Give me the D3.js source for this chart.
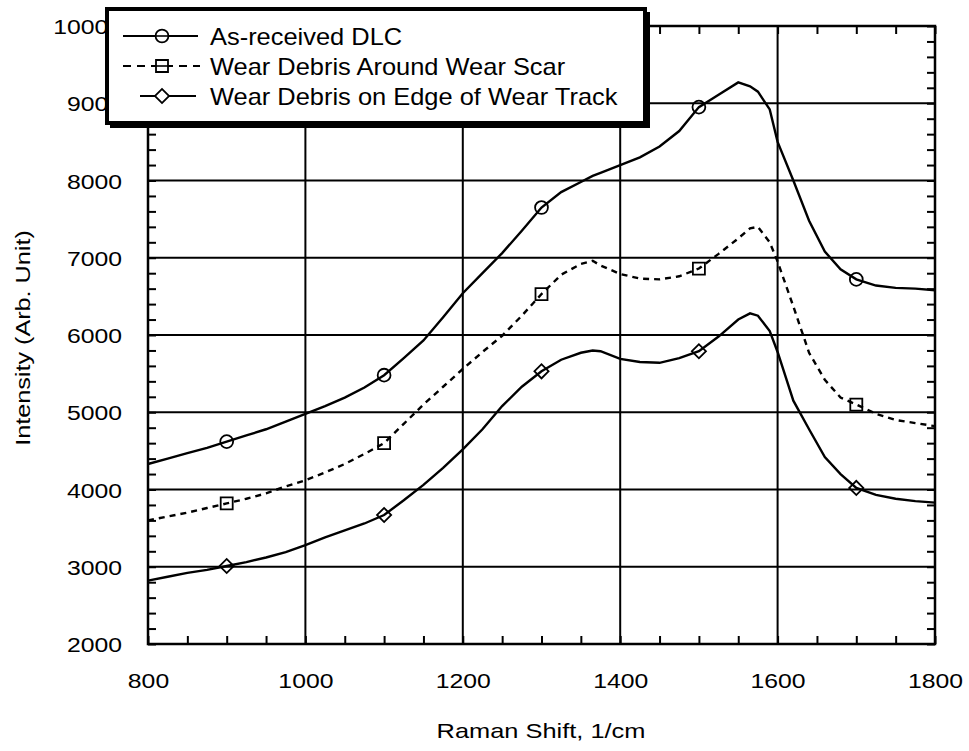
<!DOCTYPE html>
<html>
<head>
<meta charset="utf-8">
<script src="https://cdn.jsdelivr.net/npm/d3@7"></script>
<style>
  body { margin: 0; background: #fff; }
  svg { font-family: "Liberation Sans", Arial, sans-serif; }
</style>
</head>
<body>
<svg id="chart" width="969" height="751"></svg>
<script>
// Raman shift (1/cm) sample positions, shared by all three spectra
const ramanShift = [800, 825, 850, 875, 900, 925, 950, 975, 1000, 1025, 1050, 1075, 1100, 1125, 1150, 1175,
  1200, 1225, 1250, 1275, 1300, 1325, 1350, 1365, 1375, 1400, 1425, 1450, 1475, 1500, 1525, 1550, 1565,
  1575, 1590, 1600, 1620, 1640, 1660, 1680, 1700, 1725, 1750, 1775, 1800];

const asReceived = [4330, 4400, 4470, 4540, 4620, 4700, 4780, 4880, 4980, 5080, 5190, 5320, 5480, 5700, 5930, 6230,
  6540, 6800, 7060, 7350, 7650, 7850, 7980, 8060, 8100, 8200, 8300, 8440, 8640, 8950, 9110, 9270, 9220,
  9150, 8920, 8500, 8000, 7480, 7080, 6850, 6720, 6640, 6610, 6600, 6580];

const aroundScar = [3600, 3650, 3700, 3760, 3820, 3880, 3950, 4040, 4120, 4220, 4330, 4460, 4600, 4850, 5100, 5330,
  5560, 5780, 5990, 6250, 6530, 6780, 6920, 6960, 6900, 6790, 6730, 6720, 6760, 6860, 7050, 7250, 7380,
  7400, 7200, 6950, 6370, 5770, 5420, 5190, 5100, 4980, 4900, 4860, 4820];

const edgeTrack = [2820, 2870, 2920, 2960, 3010, 3060, 3120, 3190, 3280, 3380, 3470, 3560, 3670, 3860, 4060, 4280,
  4520, 4780, 5080, 5330, 5530, 5680, 5770, 5800, 5790, 5690, 5650, 5640, 5700, 5790, 5980, 6200, 6280,
  6250, 6050, 5780, 5150, 4780, 4420, 4200, 4020, 3930, 3880, 3850, 3830];

const markerShift = [900, 1100, 1300, 1500, 1700];
const seriesNames = ['As-received DLC', 'Wear Debris Around Wear Scar', 'Wear Debris on Edge of Wear Track'];

const xTicks = [800, 1000, 1200, 1400, 1600, 1800];
const yTicks = [2000, 3000, 4000, 5000, 6000, 7000, 8000, 9000, 10000];

const svg = d3.select('#chart');
const plotLeft = 148, plotRight = 935, plotTop = 26, plotBottom = 644;

const x = d3.scaleLinear().domain([800, 1800]).range([plotLeft, plotRight]);
const y = d3.scaleLinear().domain([2000, 10000]).range([plotBottom, plotTop]);

const series = [
  { name: seriesNames[0], values: asReceived, dash: null, symbol: 'circle' },
  { name: seriesNames[1], values: aroundScar, dash: '6,5', symbol: 'square' },
  { name: seriesNames[2], values: edgeTrack, dash: null, symbol: 'diamond' }
];

// grid lines
const grid = svg.append('g').attr('class', 'grid');
grid.selectAll('line.v')
  .data(xTicks.slice(1, -1))
  .enter()
  .append('line')
  .attr('x1', d => x(d)).attr('x2', d => x(d))
  .attr('y1', plotTop).attr('y2', plotBottom)
  .style('stroke', '#000').style('stroke-width', 2);
grid.selectAll('line.h')
  .data(yTicks.slice(1, -1))
  .enter()
  .append('line')
  .attr('x1', plotLeft).attr('x2', plotRight)
  .attr('y1', d => y(d)).attr('y2', d => y(d))
  .style('stroke', '#000').style('stroke-width', 2);

// minor ticks, pointing inward on all four sides
const xMinor = d3.range(800, 1801, 50);
const yMinor = d3.range(2000, 10001, 200);
const tickAxes = [
  [d3.axisBottom(x).tickValues(xMinor).tickSize(-8), `translate(0,${plotBottom})`],
  [d3.axisTop(x).tickValues(xMinor).tickSize(-8), `translate(0,${plotTop})`],
  [d3.axisLeft(y).tickValues(yMinor).tickSize(-8), `translate(${plotLeft},0)`],
  [d3.axisRight(y).tickValues(yMinor).tickSize(-8), `translate(${plotRight},0)`]
];
tickAxes.forEach(([ax, tr]) => {
  const g = svg.append('g').attr('transform', tr).call(ax.tickFormat(''));
  g.select('.domain').remove();
  g.selectAll('line').style('stroke', '#000').style('stroke-width', 2);
});

// frame
svg.append('rect')
  .attr('x', plotLeft).attr('y', plotTop)
  .attr('width', plotRight - plotLeft).attr('height', plotBottom - plotTop)
  .style('fill', 'none').style('stroke', '#000').style('stroke-width', 2.5);

// tick labels
const xLab = svg.append('g')
  .attr('transform', `translate(0,${plotBottom})`)
  .call(d3.axisBottom(x).tickValues(xTicks).tickSize(0).tickFormat(d3.format('d')));
xLab.select('.domain').remove();
xLab.selectAll('text')
  .attr('y', 0).attr('dy', 0)
  .attr('transform', 'translate(0,44) scale(1.18,1)')
  .style('font-size', '21px').style('fill', '#000')
  .style('font-family', '"Liberation Sans", Arial, sans-serif');

const yLab = svg.append('g')
  .attr('transform', `translate(${plotLeft},0)`)
  .call(d3.axisLeft(y).tickValues(yTicks).tickSize(0).tickFormat(d3.format('d')));
yLab.select('.domain').remove();
yLab.selectAll('text')
  .attr('x', 0).attr('dy', '0.36em')
  .attr('transform', 'translate(-26,0) scale(1.18,1)')
  .style('font-size', '21px').style('fill', '#000')
  .style('font-family', '"Liberation Sans", Arial, sans-serif');

// axis titles
svg.append('text')
  .attr('text-anchor', 'middle')
  .attr('transform', 'translate(541,738) scale(1.21,1)')
  .style('font-size', '21px')
  .text('Raman Shift, 1/cm');

svg.append('text')
  .attr('transform', 'translate(30,338) rotate(-90) scale(1.2,1)')
  .attr('text-anchor', 'middle')
  .style('font-size', '21px')
  .text('Intensity (Arb. Unit)');

// spectra
const line = d3.line()
  .x(d => x(d[0]))
  .y(d => y(d[1]));

const symbolType = { circle: d3.symbolCircle, square: d3.symbolSquare, diamond: d3.symbolSquare };
const symbolSize = { circle: 130, square: 144, diamond: 100 };
const symbolRotate = { circle: 0, square: 0, diamond: 45 };

series.forEach(s => {
  const pts = ramanShift.map((r, i) => [r, s.values[i]]);
  svg.append('path')
    .datum(pts)
    .attr('d', line)
    .style('fill', 'none')
    .style('stroke', '#000')
    .style('stroke-width', 2.4)
    .style('stroke-dasharray', s.dash);

  svg.selectAll(null)
    .data(markerShift.map(m => [m, s.values[ramanShift.indexOf(m)]]))
    .enter()
    .append('path')
    .attr('transform', d => `translate(${x(d[0])},${y(d[1])}) rotate(${symbolRotate[s.symbol]})`)
    .attr('d', d3.symbol().type(symbolType[s.symbol]).size(symbolSize[s.symbol]))
    .style('fill', 'none')
    .style('stroke', '#000')
    .style('stroke-width', 1.8);
});

// legend
const legend = svg.append('g').attr('class', 'legend');
legend.append('rect')
  .attr('x', 110).attr('y', 12).attr('width', 540).attr('height', 116)
  .style('fill', '#000');
legend.append('rect')
  .attr('x', 107).attr('y', 9).attr('width', 538).attr('height', 114)
  .style('fill', '#fff').style('stroke', '#000').style('stroke-width', 4);

const rowY = [36, 66, 96];
const rowLine = [[123, 198], [123, 200], [140, 196]];
series.forEach((s, i) => {
  legend.append('line')
    .attr('x1', rowLine[i][0]).attr('x2', rowLine[i][1])
    .attr('y1', rowY[i]).attr('y2', rowY[i])
    .style('stroke', '#000').style('stroke-width', 1.8)
    .style('stroke-dasharray', s.dash ? '8,6' : null);
  legend.append('path')
    .attr('transform', `translate(162,${rowY[i]}) rotate(${symbolRotate[s.symbol]})`)
    .attr('d', d3.symbol().type(symbolType[s.symbol]).size(symbolSize[s.symbol]))
    .style('fill', '#fff').style('stroke', '#000').style('stroke-width', 1.8);
  if (s.symbol !== 'diamond') {
    legend.append('line')
      .attr('x1', 155).attr('x2', 169)
      .attr('y1', rowY[i]).attr('y2', rowY[i])
      .style('stroke', '#000').style('stroke-width', 1.6);
  }
  legend.append('text')
    .attr('transform', `translate(210,${rowY[i] + 9}) scale(1.06,1)`)
    .style('font-size', '24px')
    .text(s.name);
});
</script>
</body>
</html>
